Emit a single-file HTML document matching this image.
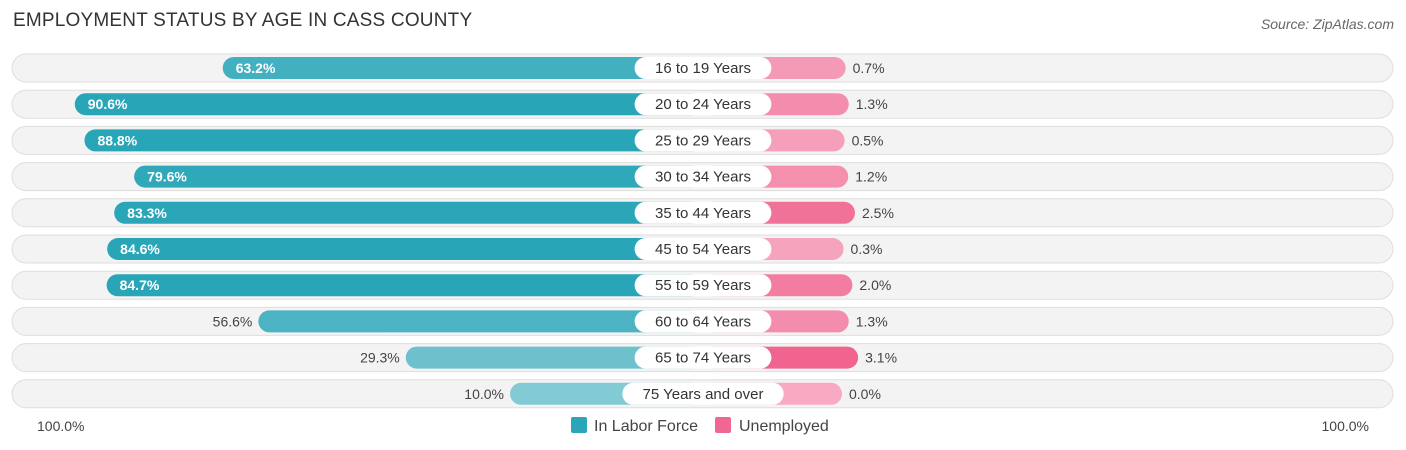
<!DOCTYPE html>
<html><head><meta charset="utf-8"><style>
body{margin:0;width:1406px;height:450px;background:#fff;font-family:"Liberation Sans",sans-serif;position:relative;overflow:hidden}
.title{position:absolute;left:13px;top:10px;font-size:19px;color:#333;letter-spacing:0.2px}
.src{position:absolute;right:12px;top:16px;font-size:14px;color:#666;font-style:italic}
svg{position:absolute;left:0;top:0}
</style></head><body>
<div class="title">EMPLOYMENT STATUS BY AGE IN CASS COUNTY</div>
<div class="src">Source: ZipAtlas.com</div>
<svg id="c" width="1406" height="450"></svg>
<script>
const categories=["16 to 19 Years","20 to 24 Years","25 to 29 Years","30 to 34 Years","35 to 44 Years","45 to 54 Years","55 to 59 Years","60 to 64 Years","65 to 74 Years","75 Years and over"];
const laborForce=[63.2,90.6,88.8,79.6,83.3,84.6,84.7,56.6,29.3,10.0];
const unemployed=[0.7,1.3,0.5,1.2,2.5,0.3,2.0,1.3,3.1,0.0];
const NS="http://www.w3.org/2000/svg";
const svg=document.getElementById('c');
const cx=703, off=139, pxL=5.4, pxR=5.2, y0=68, dy=36.2;
const xL=v=>cx-off-v*pxL, xR=v=>cx+off+v*pxR, yRow=i=>y0+i*dy;
function mk(t,a,p){const e=document.createElementNS(NS,t);for(const k in a)e.setAttribute(k,a[k]);(p||svg).appendChild(e);return e;}
function mix(c1,c2,t){return 'rgb('+c1.map((v,i)=>Math.round(v+(c2[i]-v)*t)).join(',')+')';}
categories.forEach((cat,i)=>{
  const y=yRow(i);
  const g=mk('g',{});
  
  
  const bg=mk('rect',{x:12,y:y-14,width:1381,height:28,rx:14,fill:'#f3f3f3',stroke:'#dedede','stroke-width':1},g);
  
  
  const v=laborForce[i];
  const lc=mix([143,208,216],[41,165,184],Math.min(1,v/85));
  const lb=mk('rect',{x:xL(v),y:y-11,width:cx-xL(v),height:22,rx:11,fill:lc},g);
  
  
  const inside=v>60;
  const lt=mk('text',{x:inside?xL(v)+13:xL(v)-6,y:y+5,'font-size':14,fill:inside?'#fff':'#444','text-anchor':inside?'start':'end','font-weight':inside?'bold':'normal'},g);
  lt.textContent=v.toFixed(1)+'%';
  
  
  const u=unemployed[i];
  const rc=mix([247,170,194],[240,100,143],Math.min(1,u/3.1));
  const rb=mk('rect',{x:cx,y:y-11,width:xR(u)-cx,height:22,rx:11,fill:rc},g);
  
  
  const rt=mk('text',{x:xR(u)+7,y:y+5,'font-size':14,fill:'#444'},g);
  rt.textContent=u.toFixed(1)+'%';
  
  
  const w=cat.length*8.2+22;
  const pill=mk('rect',{x:cx-w/2,y:y-11,width:w,height:22,rx:11,fill:'#fff'},g);
  
  
  const ct=mk('text',{x:cx,y:y+5,'font-size':15,fill:'#333','text-anchor':'middle'},g);
  ct.textContent=cat;
  
  
});
const a1=mk('text',{x:37,y:431,'font-size':14,fill:'#444'});a1.textContent='100.0%';


const a2=mk('text',{x:1369,y:431,'font-size':14,fill:'#444','text-anchor':'end'});a2.textContent='100.0%';


const l1=mk('rect',{x:571,y:417,width:16,height:16,rx:2,fill:'#2aa6b8'});


const t1=mk('text',{x:594,y:431,'font-size':16,fill:'#444'});t1.textContent='In Labor Force';


const l2=mk('rect',{x:715,y:417,width:16,height:16,rx:2,fill:'#f06892'});


const t2=mk('text',{x:739,y:431,'font-size':16,fill:'#444'});t2.textContent='Unemployed';


</script>
</body></html>
